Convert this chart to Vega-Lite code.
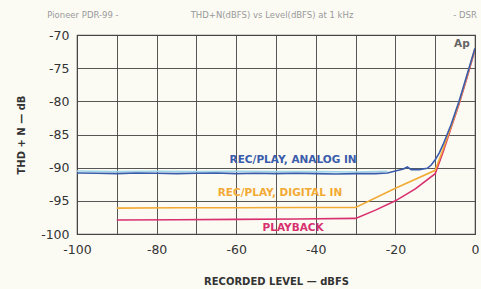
{
  "$schema": "https://vega.github.io/schema/vega-lite/v6.json",
  "width": 398,
  "height": 199,
  "autosize": {"type": "none"},
  "padding": {"left": 77, "top": 35, "right": 6, "bottom": 55},
  "background": "#fbfbf4",
  "config": {
    "font": "DejaVu Sans",
    "view": {"stroke": "#555", "strokeWidth": 1.2},
    "axis": {"gridColor": "#444", "gridOpacity": 0.9, "gridWidth": 1, "domain": false, "ticks": false, "labelColor": "#333", "labelFontSize": 12.5, "titleColor": "#333", "titleFontSize": 10, "titleFontWeight": "bold", "labelOverlap": false, "labelFlush": false}
  },
  "datasets": {
    "curves": [
      {"s": "cyan", "x": -100, "y": -90.5}, {"s": "cyan", "x": -90, "y": -90.6}, {"s": "cyan", "x": -80, "y": -90.55}, {"s": "cyan", "x": -70, "y": -90.6}, {"s": "cyan", "x": -60, "y": -90.55}, {"s": "cyan", "x": -50, "y": -90.6}, {"s": "cyan", "x": -40, "y": -90.6}, {"s": "cyan", "x": -30, "y": -90.65}, {"s": "cyan", "x": -22, "y": -90.55},
      {"s": "playback", "x": -90, "y": -97.9}, {"s": "playback", "x": -75, "y": -97.85}, {"s": "playback", "x": -60, "y": -97.8}, {"s": "playback", "x": -45, "y": -97.75}, {"s": "playback", "x": -30, "y": -97.65}, {"s": "playback", "x": -25, "y": -96.4}, {"s": "playback", "x": -20, "y": -95.0}, {"s": "playback", "x": -15, "y": -93.2}, {"s": "playback", "x": -10, "y": -90.9}, {"s": "playback", "x": -8, "y": -87.6}, {"s": "playback", "x": -6, "y": -84.0}, {"s": "playback", "x": -4, "y": -80.4}, {"s": "playback", "x": -2, "y": -76.4}, {"s": "playback", "x": 0, "y": -72.2},
      {"s": "digital", "x": -90, "y": -96.1}, {"s": "digital", "x": -75, "y": -96.05}, {"s": "digital", "x": -60, "y": -96.05}, {"s": "digital", "x": -45, "y": -96.0}, {"s": "digital", "x": -30, "y": -96.0}, {"s": "digital", "x": -20, "y": -93.1}, {"s": "digital", "x": -10, "y": -90.4}, {"s": "digital", "x": -8, "y": -87.2}, {"s": "digital", "x": -6, "y": -83.8}, {"s": "digital", "x": -4, "y": -80.2}, {"s": "digital", "x": -2, "y": -76.2}, {"s": "digital", "x": 0, "y": -72.0},
      {"s": "analog", "x": -100, "y": -90.8}, {"s": "analog", "x": -95, "y": -90.85}, {"s": "analog", "x": -90, "y": -90.9}, {"s": "analog", "x": -85, "y": -90.8}, {"s": "analog", "x": -80, "y": -90.85}, {"s": "analog", "x": -75, "y": -90.9}, {"s": "analog", "x": -70, "y": -90.85}, {"s": "analog", "x": -65, "y": -90.8}, {"s": "analog", "x": -60, "y": -90.9}, {"s": "analog", "x": -55, "y": -90.85}, {"s": "analog", "x": -50, "y": -90.9}, {"s": "analog", "x": -45, "y": -90.85}, {"s": "analog", "x": -40, "y": -90.9}, {"s": "analog", "x": -35, "y": -90.95}, {"s": "analog", "x": -30, "y": -90.9}, {"s": "analog", "x": -25, "y": -90.9}, {"s": "analog", "x": -22, "y": -90.8}, {"s": "analog", "x": -20, "y": -90.5}, {"s": "analog", "x": -18, "y": -90.2}, {"s": "analog", "x": -17, "y": -89.9}, {"s": "analog", "x": -16, "y": -90.3}, {"s": "analog", "x": -14, "y": -90.3}, {"s": "analog", "x": -12, "y": -90.1}, {"s": "analog", "x": -11, "y": -89.6}, {"s": "analog", "x": -10, "y": -88.8}, {"s": "analog", "x": -9, "y": -87.8}, {"s": "analog", "x": -8, "y": -86.5}, {"s": "analog", "x": -6, "y": -83.5}, {"s": "analog", "x": -4, "y": -80.0}, {"s": "analog", "x": -2, "y": -76.0}, {"s": "analog", "x": 0, "y": -72.0}
    ],
    "labels": [
      {"s": "analog", "x": -45.7, "y": -88.9, "t": "REC/PLAY, ANALOG IN"},
      {"s": "digital", "x": -49, "y": -93.8, "t": "REC/PLAY, DIGITAL IN"},
      {"s": "playback", "x": -45.7, "y": -99.1, "t": "PLAYBACK"},
      {"s": "ap", "x": -3.3, "y": -71.4, "t": "Ap"}
    ],
    "header": [
      {"x": -98.5, "y": -67.0, "t": "Pioneer PDR-99 -"},
      {"x": -51, "y": -67.0, "t": "THD+N(dBFS) vs Level(dBFS) at 1 kHz"},
      {"x": -2.5, "y": -67.0, "t": "- DSR"}
    ]
  },
  "encoding": {
    "x": {"field": "x", "type": "quantitative", "scale": {"domain": [-100, 0], "nice": false, "zero": false}, "axis": {"values": [-100, -90, -80, -70, -60, -50, -40, -30, -20, -10, 0], "labelExpr": "datum.value % 20 == 0 ? replace(datum.label, '−', '-') : ''", "labelPadding": 9, "title": "RECORDED LEVEL — dBFS", "titlePadding": 21}},
    "y": {"field": "y", "type": "quantitative", "scale": {"domain": [-100, -70], "nice": false, "zero": false}, "axis": {"values": [-100, -95, -90, -85, -80, -75, -70], "labelExpr": "replace(datum.label, '−', '-')", "labelPadding": 8, "title": "THD + N — dB", "titlePadding": 14}}
  },
  "layer": [
    {
      "data": {"name": "curves"},
      "mark": {"type": "line", "strokeWidth": 1.6, "interpolate": "linear", "clip": true},
      "encoding": {
        "color": {"field": "s", "type": "nominal", "scale": {"domain": ["cyan", "playback", "digital", "analog", "ap"], "range": ["#9fd6ec", "#d8306e", "#f2aa35", "#3a5cab", "#666666"]}, "legend": null},
        "order": {"field": "x", "type": "quantitative"}
      }
    },
    {
      "data": {"name": "labels"},
      "mark": {"type": "text", "fontSize": 10.5, "fontWeight": "bold"},
      "encoding": {
        "text": {"field": "t"},
        "color": {"field": "s", "type": "nominal", "legend": null}
      }
    },
    {
      "data": {"name": "header"},
      "mark": {"type": "text", "fontSize": 8.5, "color": "#999", "clip": false},
      "encoding": {
        "text": {"field": "t"}
      }
    }
  ]
}
